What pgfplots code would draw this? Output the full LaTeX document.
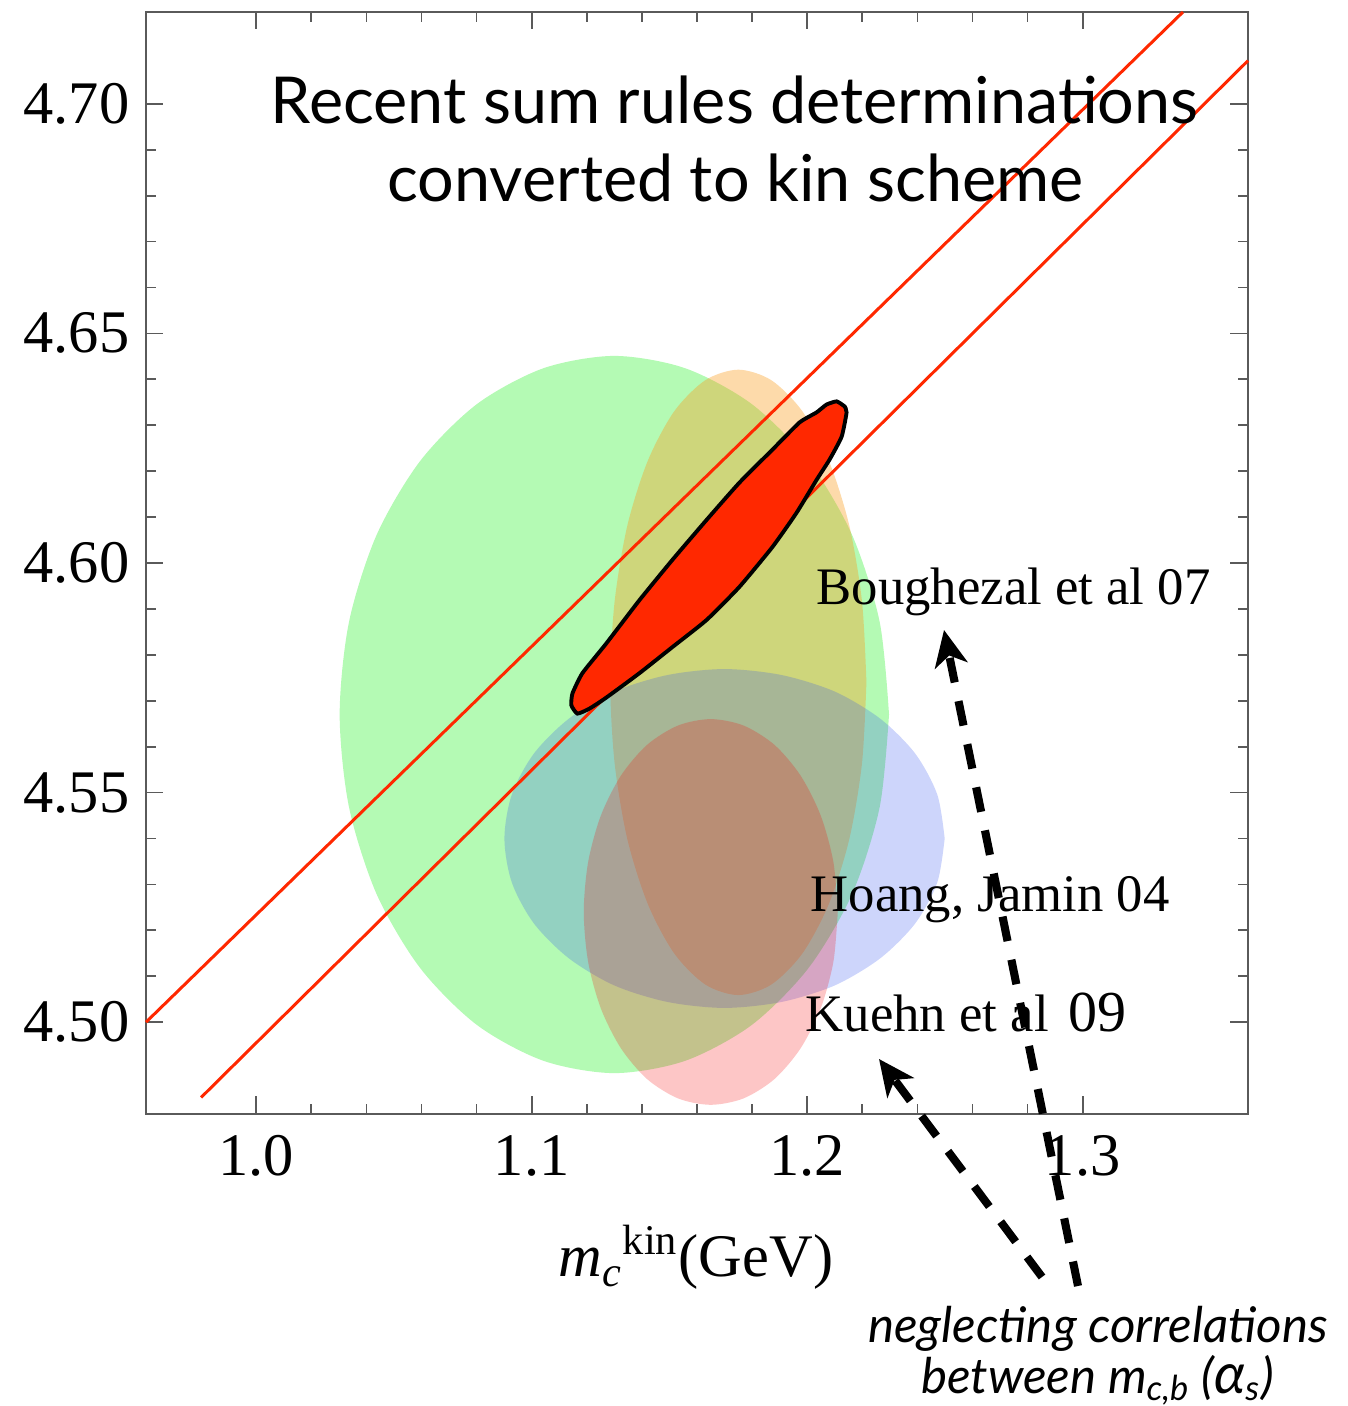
\documentclass[border=0pt]{standalone}
\usepackage{pgfplots}
\pgfplotsset{compat=1.18}
\usepackage{fontspec}
\setmainfont{Liberation Serif}
\newfontfamily\gill{Lato}
\usetikzlibrary{arrows.meta}
\definecolor{gfill}{RGB}{5,238,5}
\definecolor{ofill}{RGB}{249,155,27}
\definecolor{bfill}{RGB}{47,80,238}
\definecolor{pfill}{RGB}{246,12,12}
\definecolor{redband}{RGB}{255,40,0}
\definecolor{axgray}{RGB}{90,90,90}
\begin{document}
\begin{tikzpicture}
\begin{axis}[name=ax, at={(0,0)}, anchor=south west,
 scale only axis, width=11.02cm, height=11.02cm,
 xmin=0.96, xmax=1.36, ymin=4.48, ymax=4.72,
 xtick={1.0,1.1,1.2,1.3}, ytick={4.50,4.55,4.60,4.65,4.70},
 minor x tick num=4, minor y tick num=4,
 xtick pos=both, ytick pos=both, xticklabel pos=lower, yticklabel pos=left,
 tick align=inside,
 major tick length=0.175cm, minor tick length=0.1cm,
 axis line style={axgray, line width=0.6pt},
 every tick/.style={axgray, line width=0.5pt},
 xticklabel style={/pgf/number format/fixed, /pgf/number format/fixed zerofill, /pgf/number format/precision=1},
 yticklabel style={/pgf/number format/fixed, /pgf/number format/fixed zerofill, /pgf/number format/precision=2},
 /pgf/number format/assume math mode=true,
 tick label style={font=\fontsize{17.2}{20}\selectfont},
 x tick label style={inner sep=0pt, yshift=-0.21cm},
 y tick label style={inner sep=0pt, xshift=-0.16cm},
 no markers,
 clip=false,
]
% Green ellipse
\addplot[draw=none, fill=gfill, fill opacity=0.3, smooth] coordinates {
(1.2297,4.5670) (1.2263,4.5872) (1.2163,4.6061) (1.2005,4.6222) (1.1799,4.6346) (1.1558,4.6424)
(1.1300,4.6451) (1.1042,4.6424) (1.0801,4.6346) (1.0595,4.6222) (1.0437,4.6061) (1.0337,4.5872)
(1.0303,4.5670) (1.0337,4.5468) (1.0437,4.5279) (1.0595,4.5118) (1.0801,4.4994) (1.1042,4.4916)
(1.1300,4.4889) (1.1558,4.4916) (1.1799,4.4994) (1.2005,4.5118) (1.2163,4.5279) (1.2263,4.5468)
(1.2297,4.5670)} -- cycle;
% Orange ellipse (Boughezal et al 07)
\addplot[draw=none, fill=ofill, fill opacity=0.373, smooth] coordinates {
(1.2215,4.5740) (1.2199,4.5916) (1.2153,4.6081) (1.2079,4.6222) (1.1983,4.6330) (1.1870,4.6398)
(1.1750,4.6421) (1.1630,4.6398) (1.1517,4.6330) (1.1421,4.6222) (1.1347,4.6081) (1.1301,4.5916)
(1.1285,4.5740) (1.1301,4.5564) (1.1347,4.5399) (1.1421,4.5258) (1.1517,4.5150) (1.1630,4.5082)
(1.1750,4.5059) (1.1870,4.5082) (1.1983,4.5150) (1.2079,4.5258) (1.2153,4.5399) (1.2199,4.5564)
(1.2215,4.5740)} -- cycle;
% Blue ellipse (Hoang, Jamin 04)
\addplot[draw=none, fill=bfill, fill opacity=0.24, smooth] coordinates {
(1.2499,4.5400) (1.2472,4.5496) (1.2392,4.5585) (1.2265,4.5661) (1.2100,4.5720) (1.1907,4.5756)
(1.1700,4.5769) (1.1493,4.5756) (1.1300,4.5720) (1.1135,4.5661) (1.1008,4.5585) (1.0928,4.5496)
(1.0901,4.5400) (1.0928,4.5304) (1.1008,4.5215) (1.1135,4.5139) (1.1300,4.5080) (1.1493,4.5044)
(1.1700,4.5031) (1.1907,4.5044) (1.2100,4.5080) (1.2265,4.5139) (1.2392,4.5215) (1.2472,4.5304)
(1.2499,4.5400)} -- cycle;
% Pink ellipse (Kuehn et al 09)
\addplot[draw=none, fill=pfill, fill opacity=0.234, smooth] coordinates {
(1.2111,4.5240) (1.2095,4.5349) (1.2049,4.5450) (1.1976,4.5537) (1.1881,4.5604) (1.1769,4.5646)
(1.1650,4.5660) (1.1531,4.5646) (1.1419,4.5604) (1.1324,4.5537) (1.1251,4.5450) (1.1205,4.5349)
(1.1189,4.5240) (1.1205,4.5131) (1.1251,4.5030) (1.1324,4.4943) (1.1419,4.4876) (1.1531,4.4834)
(1.1650,4.4820) (1.1769,4.4834) (1.1881,4.4876) (1.1976,4.4943) (1.2049,4.5030) (1.2095,4.5131)
(1.2111,4.5240)} -- cycle;
% Red band lines
\addplot[redband, line width=0.85pt] coordinates {(0.96,4.50) (1.3364,4.72)};
\addplot[redband, line width=0.85pt] coordinates {(0.98,4.4836) (1.36,4.7094)};
% Red combined region
\addplot[draw=black, line width=1.1pt, fill=redband, smooth, tension=0.3] coordinates {
(1.2136,4.6341) (1.2143,4.6328) (1.2125,4.6275) (1.2081,4.6225) (1.2034,4.6181) (1.1961,4.6109)
(1.1874,4.6035) (1.1754,4.5948) (1.1635,4.5876) (1.1511,4.5817) (1.1391,4.5760) (1.1271,4.5707)
(1.1210,4.5683) (1.1166,4.5672) (1.1144,4.5690) (1.1148,4.5716) (1.1184,4.5760) (1.1271,4.5825)
(1.1391,4.5919) (1.1511,4.6007) (1.1635,4.6094) (1.1754,4.6175) (1.1874,4.6247) (1.1972,4.6306)
(1.2034,4.6328) (1.2070,4.6345) (1.2107,4.6352) (1.2136,4.6341)} -- cycle;
\end{axis}
\begin{scope}[shift={(ax.south west)}]
\node[anchor=base, inner sep=0pt, font=\gill\fontsize{18.4}{22}\selectfont] at (5.885,9.90) {Recent sum rules determinations};
\node[anchor=base, inner sep=0pt, font=\gill\fontsize{18.4}{22}\selectfont] at (5.895,9.12) {converted to kin scheme};
\node[anchor=base west, inner sep=0pt, font=\fontsize{15}{18}\selectfont] at (6.70,5.09) {Boughezal et al 07};
\node[anchor=base west, inner sep=0pt, font=\fontsize{15}{18}\selectfont] at (6.64,2.02) {Hoang, Jamin 04};
\node[anchor=base west, inner sep=0pt, font=\fontsize{15}{18}\selectfont] at (6.59,0.82) {Kuehn et al\hspace{0.07cm} {\fontsize{16.5}{18}\selectfont 09}};
\node[anchor=base, inner sep=0pt, font=\fontsize{17.2}{20}\selectfont] at (5.50,-1.63) {\textit{m}\textsubscript{\textit{c}}\textsuperscript{kin}(GeV)};
\node[anchor=base, inner sep=0pt, font=\gill\itshape\fontsize{14}{16}\selectfont] at (9.52,-2.28) {neglecting correlations};
\node[anchor=base, inner sep=0pt, font=\gill\itshape\fontsize{14}{16}\selectfont] at (9.515,-2.79) {between \textit{m}\textsubscript{c,b} ({\fontsize{16}{16}\selectfont α}\textsubscript{s})};
\draw[black, line width=2.3pt, dash pattern=on 0.25cm off 0.19cm, -{Stealth[length=0.36cm, width=0.33cm, inset=0.1cm]}] (9.32,-1.72) -- (7.98,4.84);
\draw[black, line width=2.3pt, dash pattern=on 0.25cm off 0.19cm, -{Stealth[length=0.36cm, width=0.33cm, inset=0.1cm]}] (8.96,-1.63) -- (7.33,0.55);
\pgfresetboundingbox
\path (-1.46,-2.92) rectangle (12.01,11.14);
\end{scope}
\end{tikzpicture}
\end{document}
